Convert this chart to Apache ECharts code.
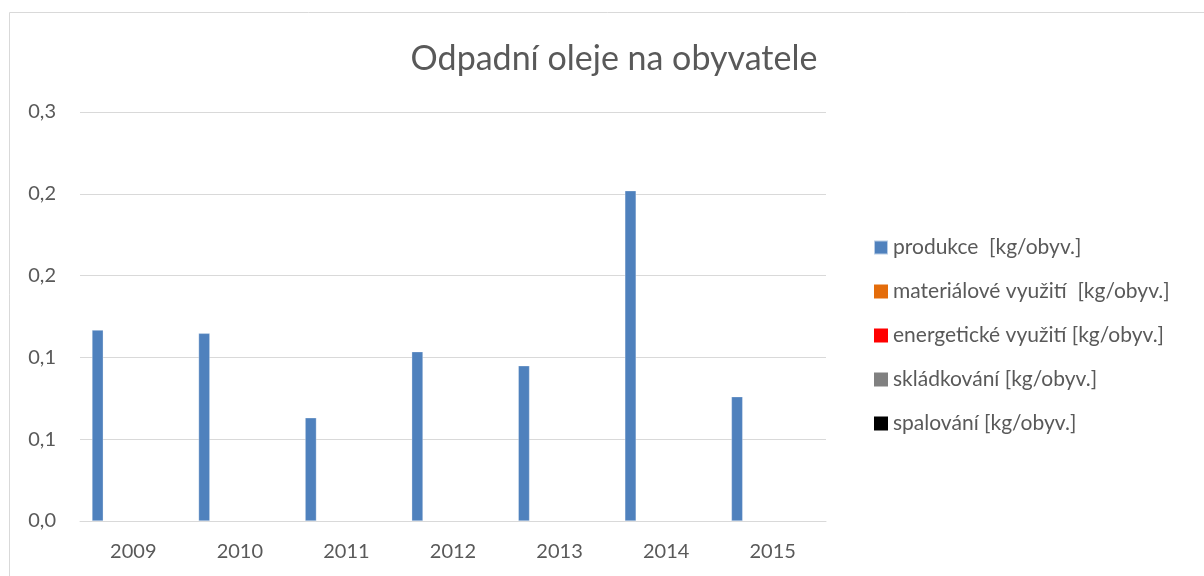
<!DOCTYPE html>
<html>
<head>
<meta charset="utf-8">
<script src="https://cdn.jsdelivr.net/npm/echarts@6/dist/echarts.min.js"></script>
<style>
html,body{margin:0;padding:0;background:#fff;}
#chart{width:1204px;height:576px;}
</style>
</head>
<body>
<div id="chart"></div>
<script>
const title = 'Odpadní oleje na obyvatele';
const years = ['2009','2010','2011','2012','2013','2014','2015'];
const seriesNames = ['produkce  [kg/obyv.]','materiálové využití  [kg/obyv.]','energetické využití [kg/obyv.]','skládkování [kg/obyv.]','spalování [kg/obyv.]'];
const produkce = [0.1167, 0.1147, 0.0631, 0.1035, 0.0949, 0.2019, 0.0760];
const materialove = [0, 0, 0, 0, 0, 0, 0];
const energeticke = [0, 0, 0, 0, 0, 0, 0];
const skladkovani = [0, 0, 0, 0, 0, 0, 0];
const spalovani = [0, 0, 0, 0, 0, 0, 0];
const seriesData = [produkce, materialove, energeticke, skladkovani, spalovani];
const colors = ['#4f81bd', '#e46c0a', '#ff0000', '#808080', '#000000'];

const font = 'Lato, Carlito, "Open Sans", sans-serif';
const chart = echarts.init(document.getElementById('chart'), null, {renderer: 'canvas'});
chart.setOption({
  animation: false,
  color: colors,
  title: {
    text: title, left: 609, top: 37, textAlign: 'center',
    textStyle: {fontFamily: font, fontSize: 34, fontWeight: 'normal', color: '#595959'}
  },
  graphic: [{
    type: 'rect', shape: {x: 9.5, y: 12.5, width: 1400, height: 800},
    style: {fill: 'none', stroke: '#d9d9d9', lineWidth: 1}, silent: true
  }],
  legend: {
    orient: 'vertical', left: 868, top: 232,
    itemWidth: 14, itemHeight: 14, itemGap: 23,
    icon: 'rect',
    textStyle: {fontFamily: font, fontSize: 21, color: '#595959'},
    data: seriesNames
  },
  grid: {left: 80, right: 378, top: 112, bottom: 55, containLabel: false},
  xAxis: {
    type: 'category', data: years,
    axisLine: {show: true, lineStyle: {color: '#d9d9d9', width: 1}},
    axisTick: {show: false},
    axisLabel: {fontFamily: font, fontSize: 20, color: '#595959', margin: 21}
  },
  yAxis: {
    type: 'value', min: 0, max: 0.25, interval: 0.05,
    axisLine: {show: false}, axisTick: {show: false},
    splitLine: {lineStyle: {color: '#d9d9d9', width: 1}},
    axisLabel: {
      fontFamily: font, fontSize: 20, color: '#595959', margin: 24,
      formatter: v => (Math.round(v * 10 + 1e-9) / 10).toFixed(1).replace('.', ',')
    }
  },
  series: seriesNames.map((n, i) => ({
    name: n, type: 'bar', data: seriesData[i],
    barGap: '58%', barCategoryGap: '22.5%',
    itemStyle: {color: colors[i], borderColor: 'rgba(255,255,255,0.6)', borderWidth: i === 0 ? 0.5 : 0}
  }))
});
</script>
</body>
</html>
